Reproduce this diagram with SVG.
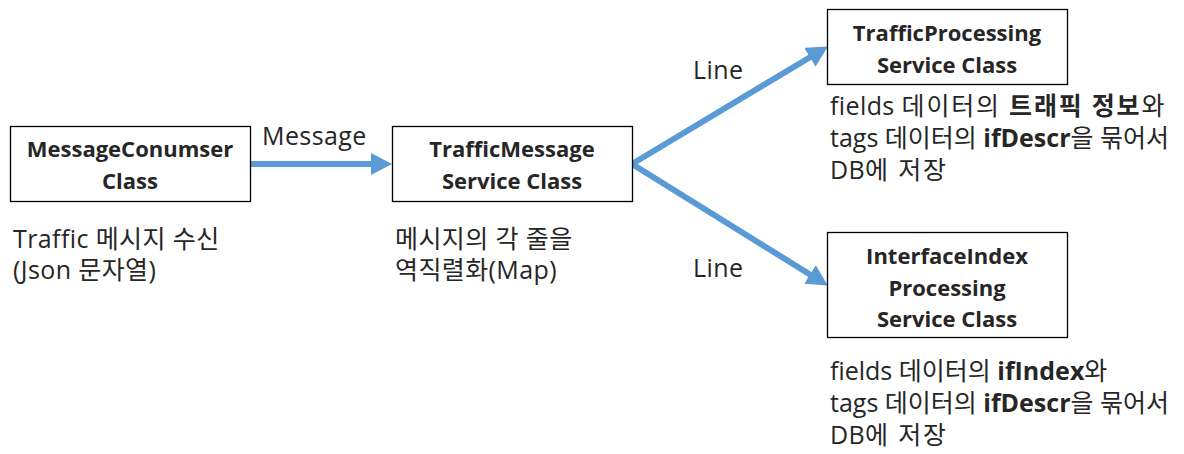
<svg xmlns="http://www.w3.org/2000/svg" width="1184" height="454" viewBox="0 0 1184 454">
<style>
  .box { fill: #ffffff; stroke: #000000; stroke-width: 1.3; }
  .title { font-family: "Open Sans", "Noto Sans CJK KR", sans-serif; font-weight: bold; font-size: 22px; fill: #262626; text-anchor: middle; }
  .txt { font-family: "Open Sans", "Noto Sans CJK KR", sans-serif; font-size: 25px; fill: #262626; letter-spacing: 0.4px; }
  .tight { letter-spacing: 0; }
  .ko { letter-spacing: 1.8px; }
  .b { font-weight: bold; }
  .conn { fill: none; stroke: #5B9BD5; stroke-width: 6; marker-end: url(#ah); }
</style>
<defs>
  <marker id="ah" markerUnits="userSpaceOnUse" markerWidth="22" markerHeight="22" refX="8" refY="11" orient="auto" viewBox="0 0 22 22">
    <path d="M0,0 L21,11 L0,22 z" fill="#5B9BD5"/>
  </marker>
</defs>
<rect width="1184" height="454" fill="#ffffff"/>
<g id="connectors">
  <path class="conn" d="M250,164 L379,164"/>
  <path class="conn" d="M632,164 L816.7,53.2"/>
  <path class="conn" d="M632,164 L816.8,278.7"/>
  <text class="txt" x="262" y="145">Message</text>
  <text class="txt" x="693" y="79">Line</text>
  <text class="txt" x="693" y="277">Line</text>
</g>
<g id="message-consumer">
  <rect class="box" x="10.5" y="126.5" width="240" height="75"/>
  <text class="title" x="130" y="157">MessageConumser</text>
  <text class="title" x="130" y="189">Class</text>
  <text class="txt" x="13" y="248">Traffic 메시지 수신</text>
  <text class="txt" x="13" y="279">(Json 문자열)</text>
</g>
<g id="traffic-message-service">
  <rect class="box" x="392.5" y="126.5" width="240" height="75"/>
  <text class="title" x="512" y="157">TrafficMessage</text>
  <text class="title" x="512" y="189">Service Class</text>
  <text class="txt" x="395" y="248">메시지의 각 줄을</text>
  <text class="txt" x="395" y="279">역직렬화(Map)</text>
</g>
<g id="traffic-processing-service">
  <rect class="box" x="827.5" y="9.5" width="240" height="75"/>
  <text class="title" x="947" y="41">TrafficProcessing</text>
  <text class="title" x="947" y="73">Service Class</text>
  <text class="txt" x="830" y="115">fields <tspan class="ko">데이터의 </tspan><tspan class="b ko">트래픽 정보</tspan><tspan class="ko">와</tspan></text>
  <text class="txt tight" x="830" y="147">tags 데이터의 <tspan class="b">ifDescr</tspan>을 묶어서</text>
  <text class="txt" x="830" y="179">DB<tspan class="ko">에 저장</tspan></text>
</g>
<g id="interface-index-processing-service">
  <rect class="box" x="827.5" y="232.5" width="240" height="105"/>
  <text class="title" x="947" y="264">InterfaceIndex</text>
  <text class="title" x="947" y="296">Processing</text>
  <text class="title" x="947" y="327">Service Class</text>
  <text class="txt tight" x="830" y="380">fields 데이터의 <tspan class="b">ifIndex</tspan>와</text>
  <text class="txt tight" x="830" y="412">tags 데이터의 <tspan class="b">ifDescr</tspan>을 묶어서</text>
  <text class="txt" x="830" y="444">DB<tspan class="ko">에 저장</tspan></text>
</g>
</svg>
